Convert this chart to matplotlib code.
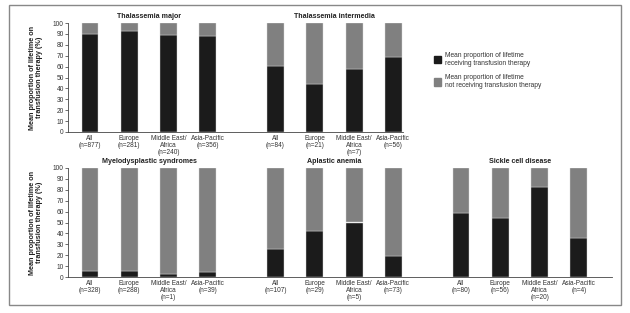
import numpy as np
import matplotlib
matplotlib.use("Agg")
import matplotlib.pyplot as plt
from matplotlib.patches import Patch, Rectangle

plt.rcParams['font.family'] = ['Liberation Sans', 'DejaVu Sans']

# data
regions = ["All", "Europe", "Middle East/\nAfrica", "Asia-Pacific"]

top_titles = ["Thalassemia major", "Thalassemia intermedia"]
top_n = [[877, 281, 240, 356], [84, 21, 7, 56]]
top_recv = [[90, 93, 89, 88], [61, 44, 58, 69]]

bot_titles = ["Myelodysplastic syndromes", "Aplastic anemia", "Sickle cell disease"]
bot_n = [[328, 288, 1, 39], [107, 29, 5, 73], [80, 56, 20, 4]]
bot_recv = [[5.5, 5.5, 2.5, 4.5], [26, 42, 50, 19.5], [59, 54, 82.5, 35.5]]

legend_labels = ["Mean proportion of lifetime\nreceiving transfusion therapy",
                 "Mean proportion of lifetime\nnot receiving transfusion therapy"]

BLACK = "#1b1b1b"
GRAY = "#808080"

W, H = 630, 313
fig = plt.figure(figsize=(W / 100, H / 100), dpi=100)

# pixel layout helpers
unit = 39.3      # px per bar slot
x0_px = 90       # first bar centre
gap = 4.72       # group offset in slots


def px_axes(left, top, right, bottom):
    return fig.add_axes([left / W, 1 - bottom / H, (right - left) / W, (bottom - top) / H])


def draw_row(ax, titles, ns, recv):
    ticks, labels = [], []
    for g, (title, n, r) in enumerate(zip(titles, ns, recv)):
        pos = g * gap + np.arange(len(regions))
        r = np.array(r, dtype=float)
        ax.bar(pos, r, width=0.43, color=BLACK, edgecolor="#d8d8d8", linewidth=0.3)
        ax.bar(pos, 100 - r, bottom=r, width=0.43, color=GRAY, edgecolor="#d8d8d8", linewidth=0.3)
        ax.text(pos.mean(), 103, title, ha="center", va="bottom", fontsize=5.1,
                fontweight="bold", color="#222222", clip_on=False)
        ticks += list(pos)
        labels += [f"{reg}\n(n={k})" for reg, k in zip(regions, n)]
    ax.set_xticks(ticks)
    ax.set_xticklabels(labels, fontsize=4.7, color="#333333", linespacing=1.0)
    ax.tick_params(axis="x", length=0, pad=2)
    ax.set_ylim(0, 100)
    ax.set_yticks(np.arange(0, 101, 10))
    ax.tick_params(axis="y", labelsize=4.8, length=2, width=0.5, pad=1, colors="#333333")
    for s in ["top", "right"]:
        ax.spines[s].set_visible(False)
    for s in ["left", "bottom"]:
        ax.spines[s].set_linewidth(0.6)
        ax.spines[s].set_color("#444444")
    ax.set_ylabel("Mean proportion of lifetime on\ntransfusion therapy (%)", fontsize=5.2,
                  fontweight="bold", color="#222222", labelpad=7, linespacing=1.1)


xl = -(x0_px - 68) / unit
ax1 = px_axes(68, 23, 403, 132)
draw_row(ax1, top_titles, top_n, top_recv)
ax1.set_xlim(xl, (403 - x0_px) / unit)

ax2 = px_axes(68, 168, 612, 277)
draw_row(ax2, bot_titles, bot_n, bot_recv)
ax2.set_xlim(xl, (612 - x0_px) / unit)

handles = [Patch(facecolor=BLACK, edgecolor=BLACK), Patch(facecolor=GRAY, edgecolor=GRAY)]
fig.legend(handles, legend_labels, loc="upper left", bbox_to_anchor=(428 / W, 1 - 46 / H),
           frameon=False, fontsize=4.8, handlelength=1.0, handleheight=1.3,
           handletextpad=0.6, labelspacing=1.1, labelcolor="#333333")

fig.patches.append(Rectangle((9 / W, 1 - 305 / H), 612 / W, 300 / H, transform=fig.transFigure,
                             fill=False, edgecolor="#888888", linewidth=1.0))

fig.savefig("out.png", dpi=100)
